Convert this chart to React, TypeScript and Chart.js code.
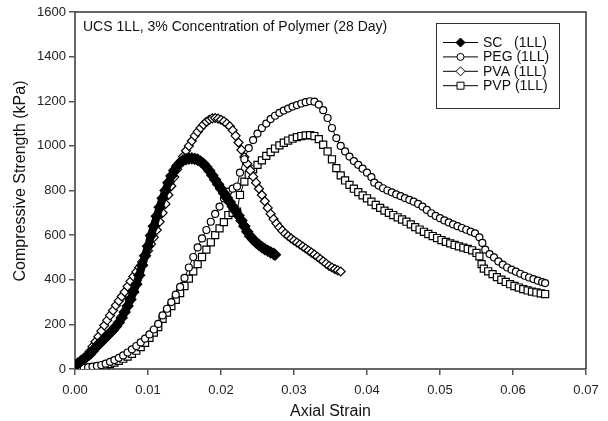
import React, { useEffect, useRef } from "react";
import { Chart, registerables } from "chart.js";

Chart.register(...registerables);

const FONT = '"Liberation Sans", Arial, sans-serif';

const titleText = "UCS 1LL, 3% Concentration of Polymer (28 Day)";
const xTitle = "Axial Strain";
const yTitle = "Compressive Strength (kPa)";
const seriesLabels = ["SC   (1LL)", "PEG (1LL)", "PVA (1LL)", "PVP (1LL)"];

const scStrain = [0.0, 0.0004, 0.0008, 0.0012, 0.0016, 0.002, 0.0024, 0.0028, 0.0032, 0.0036, 0.004, 0.0044, 0.0048, 0.0052, 0.0056, 0.006, 0.0064, 0.0068, 0.0072, 0.0076, 0.008, 0.0084, 0.0088, 0.0092, 0.0096, 0.01, 0.0104, 0.0108, 0.0112, 0.0116, 0.012, 0.0124, 0.0128, 0.0132, 0.0136, 0.014, 0.0144, 0.0148, 0.0152, 0.0156, 0.016, 0.0164, 0.0168, 0.0172, 0.0176, 0.018, 0.0184, 0.0188, 0.0192, 0.0196, 0.02, 0.0204, 0.0208, 0.0212, 0.0216, 0.022, 0.0224, 0.0228, 0.0232, 0.0236, 0.024, 0.0244, 0.0248, 0.0252, 0.0256, 0.026, 0.0264, 0.0268, 0.0272, 0.0274];
const scStress = [15, 25, 35, 45, 55, 65, 80, 95, 110, 122, 135, 148, 162, 175, 190, 208, 230, 255, 282, 312, 345, 380, 420, 465, 508, 550, 598, 640, 685, 725, 765, 800, 835, 865, 890, 910, 925, 935, 940, 943, 944, 942, 938, 930, 920, 905, 888, 868, 848, 828, 808, 788, 768, 748, 728, 708, 688, 665, 640, 615, 595, 580, 567, 556, 546, 537, 530, 523, 516, 512];

const pegStrain = [0.0, 0.0006, 0.0012, 0.0018, 0.0024, 0.003, 0.0036, 0.0042, 0.0048, 0.0054, 0.006, 0.0066, 0.0072, 0.0078, 0.0084, 0.009, 0.0096, 0.0102, 0.0108, 0.0114, 0.012, 0.0126, 0.0132, 0.0138, 0.0144, 0.015, 0.0156, 0.0162, 0.0168, 0.0174, 0.018, 0.0186, 0.0192, 0.0198, 0.0204, 0.021, 0.0216, 0.0222, 0.0226, 0.0232, 0.0238, 0.0244, 0.025, 0.0256, 0.0262, 0.0268, 0.0274, 0.028, 0.0286, 0.0292, 0.0298, 0.0304, 0.031, 0.0316, 0.0322, 0.0328, 0.0334, 0.034, 0.0346, 0.0352, 0.0358, 0.0364, 0.037, 0.0376, 0.0382, 0.0388, 0.0394, 0.04, 0.0406, 0.041, 0.0416, 0.0422, 0.0428, 0.0434, 0.044, 0.0446, 0.0452, 0.0458, 0.0464, 0.047, 0.0476, 0.0482, 0.0488, 0.0494, 0.05, 0.0506, 0.0512, 0.0518, 0.0524, 0.053, 0.0536, 0.0542, 0.0548, 0.0554, 0.0558, 0.0562, 0.0568, 0.0574, 0.058, 0.0586, 0.0592, 0.0598, 0.0604, 0.061, 0.0616, 0.0622, 0.0628, 0.0634, 0.064, 0.0644];
const pegStress = [0, 2, 5, 8, 11, 14, 18, 24, 32, 40, 50, 61, 74, 88, 103, 119, 136, 155, 177, 202, 240, 270, 300, 333, 368, 408, 455, 502, 545, 585, 623, 660, 695, 728, 765, 795, 808, 818, 880, 940, 990, 1026, 1055, 1080, 1100, 1120, 1135, 1148, 1158, 1167, 1176, 1183, 1190, 1196, 1200, 1198, 1185, 1160, 1125, 1080, 1035, 1000, 975, 952, 932, 915, 898, 880, 860, 835, 822, 810, 800, 792, 783, 775, 766, 758, 750, 740, 728, 713, 698, 686, 676, 666, 657, 648, 640, 632, 624, 616, 608, 590, 565, 535, 515, 500, 482, 468, 455, 445, 436, 427, 418, 410, 403, 396, 389, 385];

const pvaStrain = [0.0, 0.0004, 0.0008, 0.0012, 0.0016, 0.002, 0.0024, 0.0028, 0.0032, 0.0036, 0.004, 0.0044, 0.0048, 0.0052, 0.0056, 0.006, 0.0064, 0.0068, 0.0072, 0.0076, 0.008, 0.0084, 0.0088, 0.0092, 0.0096, 0.01, 0.0104, 0.0108, 0.0112, 0.0116, 0.012, 0.0124, 0.0128, 0.0132, 0.0136, 0.014, 0.0144, 0.0148, 0.0152, 0.0156, 0.016, 0.0164, 0.0168, 0.0172, 0.0176, 0.018, 0.0184, 0.0188, 0.0192, 0.0196, 0.02, 0.0204, 0.0208, 0.0212, 0.0216, 0.022, 0.0224, 0.0228, 0.0232, 0.0236, 0.024, 0.0244, 0.0248, 0.0252, 0.0256, 0.026, 0.0264, 0.0268, 0.0272, 0.0276, 0.028, 0.0284, 0.0288, 0.0292, 0.0296, 0.03, 0.0304, 0.0308, 0.0312, 0.0316, 0.032, 0.0324, 0.0328, 0.0332, 0.0336, 0.034, 0.0344, 0.0348, 0.0352, 0.0356, 0.036, 0.0364];
const pvaStress = [0, 15, 30, 45, 60, 78, 100, 122, 145, 170, 195, 218, 240, 262, 285, 305, 325, 345, 370, 393, 415, 435, 455, 480, 505, 530, 560, 590, 623, 660, 700, 740, 780, 820, 860, 895, 925, 952, 978, 1000, 1022, 1045, 1063, 1080, 1095, 1108, 1117, 1123, 1125, 1122, 1117, 1110, 1100, 1088, 1070, 1045, 1015, 982, 950, 920, 890, 862, 835, 808, 780, 752, 722, 695, 672, 652, 635, 620, 607, 596, 585, 576, 567, 558, 549, 540, 531, 522, 513, 503, 493, 483, 472, 462, 455, 448, 442, 437];

const pvpStrain = [0.0, 0.0006, 0.0012, 0.0018, 0.0024, 0.003, 0.0036, 0.0042, 0.0048, 0.0054, 0.006, 0.0066, 0.0072, 0.0078, 0.0084, 0.009, 0.0096, 0.0102, 0.0108, 0.0114, 0.012, 0.0126, 0.0132, 0.0138, 0.0144, 0.015, 0.0156, 0.0162, 0.0168, 0.0174, 0.018, 0.0186, 0.0192, 0.0198, 0.0204, 0.021, 0.0216, 0.0222, 0.0226, 0.0232, 0.0238, 0.0244, 0.025, 0.0256, 0.0262, 0.0268, 0.0274, 0.028, 0.0286, 0.0292, 0.0298, 0.0304, 0.031, 0.0316, 0.0322, 0.0328, 0.0334, 0.034, 0.0346, 0.0352, 0.0358, 0.0364, 0.037, 0.0376, 0.0382, 0.0388, 0.0394, 0.04, 0.0406, 0.0412, 0.0418, 0.0424, 0.043, 0.0436, 0.0442, 0.0448, 0.0454, 0.046, 0.0466, 0.0472, 0.0478, 0.0484, 0.049, 0.0496, 0.0502, 0.0508, 0.0514, 0.052, 0.0526, 0.0532, 0.0538, 0.0544, 0.055, 0.0554, 0.0557, 0.056, 0.0566, 0.0572, 0.0578, 0.0584, 0.059, 0.0596, 0.0602, 0.0608, 0.0614, 0.062, 0.0626, 0.0632, 0.0638, 0.0644];
const pvpStress = [0, 0, 1, 3, 5, 8, 11, 16, 22, 29, 37, 46, 56, 68, 82, 98, 117, 140, 163, 188, 225, 253, 282, 310, 340, 372, 405, 438, 470, 502, 535, 568, 600, 630, 658, 690, 700, 705, 780, 840, 870, 895, 915, 935, 955, 972, 988, 1002, 1014, 1024, 1032, 1039, 1044, 1047, 1048, 1044, 1030, 1005, 975, 940, 900, 868, 845, 825, 808, 793, 778, 765, 750, 735, 722, 710, 700, 690, 680, 670, 660, 648, 636, 625, 615, 605, 596, 587, 578, 570, 563, 556, 550, 544, 538, 532, 520, 505, 470, 450, 438, 425, 412, 400, 390, 380, 372, 365, 358, 352, 347, 343, 339, 336];

const xTicks = [0, 0.01, 0.02, 0.03, 0.04, 0.05, 0.06, 0.07];
const yTicks = [0, 200, 400, 600, 800, 1000, 1200, 1400, 1600];

function pts(xs: number[], ys: number[]) {
  return xs.map((x, i) => ({ x, y: ys[i] }));
}

function drawMarker(ctx: CanvasRenderingContext2D, kind: string, x: number, y: number, filled: boolean) {
  ctx.beginPath();
  if (kind === "circle") {
    ctx.arc(x, y, 3.5, 0, Math.PI * 2);
  } else if (kind === "diamond") {
    const r = 4.5;
    ctx.moveTo(x, y - r);
    ctx.lineTo(x + r, y);
    ctx.lineTo(x, y + r);
    ctx.lineTo(x - r, y);
    ctx.closePath();
  } else {
    ctx.rect(x - 3.5, y - 3.5, 7, 7);
  }
  ctx.fillStyle = filled ? "#000" : "#fff";
  ctx.fill();
  ctx.lineWidth = 1;
  ctx.strokeStyle = "#000";
  ctx.stroke();
}

const decorPlugin = {
  id: "decor",
  afterDraw(chart: any) {
    const ctx = chart.ctx as CanvasRenderingContext2D;
    const a = chart.chartArea;
    ctx.save();
    ctx.strokeStyle = "#333";
    ctx.lineWidth = 1.5;
    ctx.beginPath();
    ctx.moveTo(a.left, a.top);
    ctx.lineTo(a.right, a.top);
    ctx.lineTo(a.right, a.bottom);
    ctx.stroke();
    ctx.fillStyle = "#111";
    ctx.font = `14px ${FONT}`;
    ctx.textAlign = "left";
    ctx.textBaseline = "middle";
    ctx.fillText(titleText, a.left + 8, a.top + 15);
    // y axis title
    ctx.save();
    ctx.translate(21, 181);
    ctx.rotate(-Math.PI / 2);
    ctx.font = `16px ${FONT}`;
    ctx.textAlign = "center";
    ctx.textBaseline = "middle";
    ctx.fillText(yTitle, 0, 0);
    ctx.restore();
    // legend
    const bx = 436, by = 23, bw = 123, bh = 85;
    ctx.fillStyle = "#fff";
    ctx.fillRect(bx, by, bw, bh);
    ctx.strokeStyle = "#333";
    ctx.lineWidth = 1;
    ctx.strokeRect(bx + 0.5, by + 0.5, bw, bh);
    const kinds = ["diamond", "circle", "diamond", "square"];
    const fills = [true, false, false, false];
    for (let i = 0; i < 4; i++) {
      const y = by + 19.5 + i * 14.4;
      ctx.strokeStyle = "#000";
      ctx.lineWidth = 1;
      ctx.beginPath();
      ctx.moveTo(bx + 7, y);
      ctx.lineTo(bx + 42, y);
      ctx.stroke();
      drawMarker(ctx, kinds[i], bx + 24.5, y, fills[i]);
      ctx.fillStyle = "#111";
      ctx.font = `14px ${FONT}`;
      ctx.textAlign = "left";
      ctx.textBaseline = "middle";
      ctx.fillText(seriesLabels[i], bx + 47, y + 0.5);
    }
    ctx.restore();
  },
};

export default function App() {
  const ref = useRef<HTMLCanvasElement | null>(null);
  useEffect(() => {
    if (!ref.current) return;
    const common = {
      showLine: true,
      borderColor: "#000",
      borderWidth: 1,
      pointBorderColor: "#000",
      pointBorderWidth: 1.2,
      pointHoverRadius: 0,
    };
    const chart = new Chart(ref.current, {
      type: "scatter",
      data: {
        datasets: [
          { ...common, label: seriesLabels[0], data: pts(scStrain, scStress), pointStyle: "rectRot", pointRadius: 5.5, pointBackgroundColor: "#000", borderWidth: 8 },
          { ...common, label: seriesLabels[1], data: pts(pegStrain, pegStress), pointStyle: "circle", pointRadius: 3.5, pointBackgroundColor: "#fff" },
          { ...common, label: seriesLabels[2], data: pts(pvaStrain, pvaStress), pointStyle: "rectRot", pointRadius: 4.5, pointBackgroundColor: "#fff" },
          { ...common, label: seriesLabels[3], data: pts(pvpStrain, pvpStress), pointStyle: "rect", pointRadius: 5, pointBackgroundColor: "#fff" },
        ],
      },
      options: {
        animation: false,
        responsive: false,
        maintainAspectRatio: false,
        layout: { padding: { top: 12, right: 22, left: 0, bottom: 0 } },
        plugins: { legend: { display: false }, tooltip: { enabled: false }, title: { display: false } },
        scales: {
          x: {
            type: "linear",
            min: 0,
            max: 0.07,
            afterFit: (s: any) => { s.height = 52; },
            afterBuildTicks: (s: any) => { s.ticks = xTicks.map((v) => ({ value: v })); },
            ticks: { color: "#222", font: { size: 13, family: FONT }, padding: 8, callback: (v: any) => Number(v).toFixed(2), maxRotation: 0 },
            grid: { drawOnChartArea: false, drawTicks: true, tickLength: 6, color: "#555", lineWidth: 1.5 },
            border: { display: true, color: "#666", width: 2 },
            title: { display: true, text: xTitle, color: "#111", font: { size: 16, family: FONT }, padding: { top: 0, bottom: 0 } },
          },
          y: {
            type: "linear",
            min: 0,
            max: 1600,
            afterFit: (s: any) => { s.width = 75; },
            afterBuildTicks: (s: any) => { s.ticks = yTicks.map((v) => ({ value: v })); },
            ticks: { color: "#222", font: { size: 13, family: FONT }, padding: 3, callback: (v: any) => String(v) },
            grid: { drawOnChartArea: false, drawTicks: true, tickLength: 6, color: "#555", lineWidth: 1.5 },
            border: { display: true, color: "#666", width: 2 },
            title: { display: false },
          },
        },
      } as any,
      plugins: [decorPlugin],
    });
    return () => chart.destroy();
  }, []);
  return (
    <div style={{ position: "fixed", left: 0, top: 0, width: 608, height: 421, background: "#fff" }}>
      <canvas ref={ref} width={608} height={421} style={{ width: 608, height: 421, display: "block" }} />
    </div>
  );
}
